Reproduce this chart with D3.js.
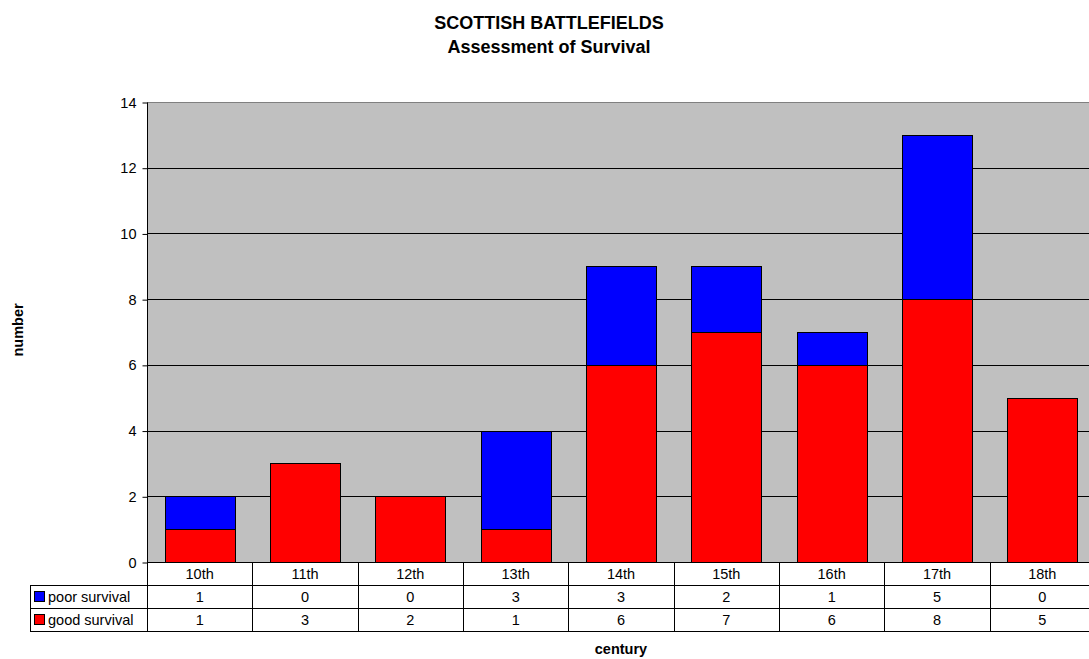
<!DOCTYPE html>
<html>
<head>
<meta charset="utf-8">
<script src="https://cdn.jsdelivr.net/npm/d3@7"></script>
<style>
  body { margin: 0; background: #fff; }
  svg { font-family: "Liberation Sans", Arial, sans-serif; }
</style>
</head>
<body>
<svg id="mainsvg" width="1089" height="659"></svg>
<script>
let centuries = ["10th", "11th", "12th", "13th", "14th", "15th", "16th", "17th", "18th"];
let goodSurvival = [1, 3, 2, 1, 6, 7, 6, 8, 5];
let poorSurvival = [1, 0, 0, 3, 3, 2, 1, 5, 0];
let yTicks = [0, 2, 4, 6, 8, 10, 12, 14];
let seriesNames = ["poor survival", "good survival"];
let seriesColors = ["#0000ff", "#ff0000"];

let svg = d3.select("#mainsvg");

let plotLeft = 147, plotRight = 1095, plotTop = 102, plotBottom = 562;
let rowH = 23;
let tableLeft = 30;
let fontSize = 14.5;

let x = d3.scaleBand().domain(centuries).range([plotLeft, plotRight]).paddingInner(0.333).paddingOuter(0.1665);
let xCol = d3.scaleBand().domain(centuries).range([plotLeft, plotRight]);
let y = d3.scaleLinear().domain([0, 14]).range([plotBottom, plotTop]);

// plot area
svg.append("rect")
    .attr("x", plotLeft).attr("y", plotTop)
    .attr("width", plotRight - plotLeft).attr("height", plotBottom - plotTop)
    .attr("fill", "#c0c0c0");

// gridlines
svg.append("g").selectAll("line").data(yTicks.filter(d => d > 0)).enter()
    .append("line")
    .attr("x1", plotLeft).attr("x2", plotRight)
    .attr("y1", d => Math.round(y(d)) + 0.5).attr("y2", d => Math.round(y(d)) + 0.5)
    .attr("stroke", d => d === 14 ? "#808080" : "#000")
    .attr("stroke-width", 1);

// stacked bars
let stackData = centuries.map((c, i) => ({century: c, good: goodSurvival[i], poor: poorSurvival[i]}));
let stack = d3.stack().keys(["good", "poor"])(stackData);
let keyColor = {good: "#ff0000", poor: "#0000ff"};

let barg = svg.append("g");
stack.forEach(layer => {
    barg.selectAll(".bar-" + layer.key).data(layer.filter(d => d[1] > d[0])).enter()
        .append("rect")
        .attr("class", "bar-" + layer.key)
        .attr("x", d => Math.round(x(d.data.century)) + 0.5)
        .attr("y", d => Math.round(y(d[1])) + 0.5)
        .attr("width", Math.round(x.bandwidth()))
        .attr("height", d => Math.round(y(d[0])) - Math.round(y(d[1])))
        .attr("fill", keyColor[layer.key])
        .attr("stroke", "#000")
        .attr("stroke-width", 1);
});

// y axis
let yAxis = d3.axisLeft(y).tickValues(yTicks).tickSize(5).tickPadding(6);
let yg = svg.append("g").attr("transform", `translate(${plotLeft + 0.5},0.5)`).call(yAxis);
yg.select(".domain").attr("d", `M0,${plotTop}V${plotBottom}`).attr("stroke", "#000");
yg.selectAll(".tick line").attr("stroke", "#000");
yg.selectAll(".tick text").attr("font-size", fontSize).attr("fill", "#000")
    .attr("font-family", "Liberation Sans, Arial, sans-serif");

// data table
let tg = svg.append("g").attr("font-size", fontSize).attr("fill", "#000");
let tableBottom = plotBottom + rowH * 3;
let lineColor = "#000";

// horizontal lines
[plotBottom + rowH, plotBottom + rowH * 2, tableBottom].forEach(yy => {
    tg.append("line")
        .attr("x1", tableLeft).attr("x2", plotRight)
        .attr("y1", yy + 0.5).attr("y2", yy + 0.5)
        .attr("stroke", lineColor);
});
tg.append("line").attr("x1", plotLeft).attr("x2", plotRight)
    .attr("y1", plotBottom + 0.5).attr("y2", plotBottom + 0.5).attr("stroke", lineColor);

// vertical lines
centuries.forEach(c => {
    tg.append("line")
        .attr("x1", Math.round(xCol(c)) + 0.5).attr("x2", Math.round(xCol(c)) + 0.5)
        .attr("y1", plotBottom).attr("y2", tableBottom)
        .attr("stroke", lineColor);
});
tg.append("line").attr("x1", tableLeft + 0.5).attr("x2", tableLeft + 0.5)
    .attr("y1", plotBottom + rowH).attr("y2", tableBottom).attr("stroke", lineColor);

// header labels
tg.selectAll(".hdr").data(centuries).enter()
    .append("text")
    .attr("class", "hdr")
    .attr("x", d => xCol(d) + xCol.bandwidth() / 2)
    .attr("y", plotBottom + rowH / 2 + 5)
    .attr("text-anchor", "middle")
    .text(d => d);

// rows
let rows = [poorSurvival, goodSurvival];
rows.forEach((vals, r) => {
    let ry = plotBottom + rowH * (r + 1);
    tg.append("rect")
        .attr("x", tableLeft + 4.5).attr("y", ry + 6.5)
        .attr("width", 10).attr("height", 10)
        .attr("fill", seriesColors[r]).attr("stroke", "#000");
    tg.append("text")
        .attr("x", tableLeft + 18).attr("y", ry + rowH / 2 + 5)
        .text(seriesNames[r]);
    tg.selectAll(".row" + r).data(vals).enter()
        .append("text")
        .attr("class", "row" + r)
        .attr("x", (d, i) => xCol(centuries[i]) + xCol.bandwidth() / 2)
        .attr("y", ry + rowH / 2 + 5)
        .attr("text-anchor", "middle")
        .text(d => d);
});

// titles
svg.append("text").attr("x", 549).attr("y", 29)
    .attr("text-anchor", "middle").attr("font-size", 18).attr("font-weight", "bold")
    .text("SCOTTISH BATTLEFIELDS");
svg.append("text").attr("x", 549).attr("y", 53)
    .attr("text-anchor", "middle").attr("font-size", 18).attr("font-weight", "bold")
    .text("Assessment of Survival");

// axis titles
svg.append("text")
    .attr("transform", "translate(23,330) rotate(-90)")
    .attr("text-anchor", "middle").attr("font-size", fontSize).attr("font-weight", "bold")
    .text("number");
svg.append("text").attr("x", (plotLeft + plotRight) / 2).attr("y", 654)
    .attr("text-anchor", "middle").attr("font-size", fontSize).attr("font-weight", "bold")
    .text("century");
</script>
</body>
</html>
